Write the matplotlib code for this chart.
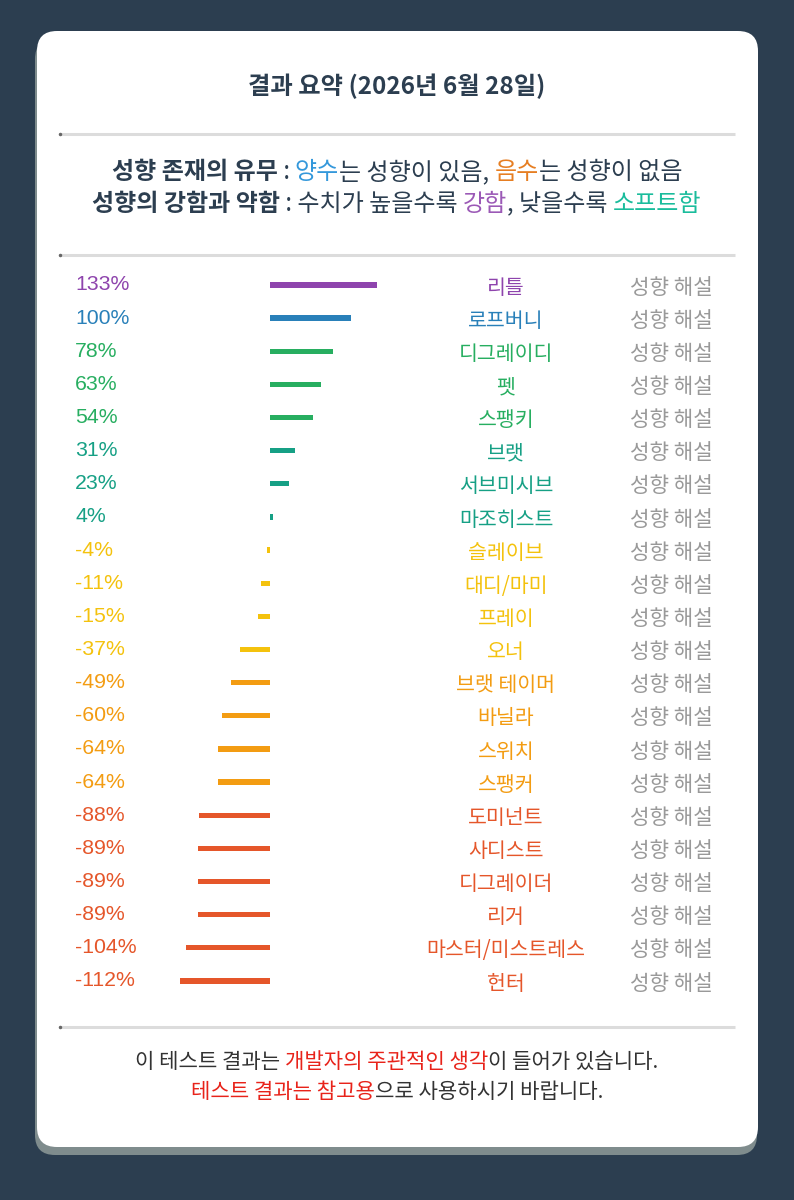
import matplotlib
matplotlib.use("Agg")
import matplotlib.pyplot as plt
from matplotlib.patches import FancyBboxPatch

plt.rcParams['font.family'] = ['Noto Sans CJK KR', 'DejaVu Sans']

# ---------------- data ----------------
names = ["리틀", "로프버니", "디그레이디", "펫", "스팽키", "브랫", "서브미시브", "마조히스트",
         "슬레이브", "대디/마미", "프레이", "오너", "브랫 테이머", "바닐라", "스위치", "스팽커",
         "도미넌트", "사디스트", "디그레이더", "리거", "마스터/미스트레스", "헌터"]
values = [133, 100, 78, 63, 54, 31, 23, 4,
          -4, -11, -15, -37, -49, -60, -64, -64,
          -88, -89, -89, -89, -104, -112]
colors = ["#8e44ad", "#2980b9", "#27ae60", "#27ae60", "#27ae60", "#16a085", "#16a085", "#16a085",
          "#f4c20d", "#f4c20d", "#f4c20d", "#f4c20d", "#f39c12", "#f39c12", "#f39c12", "#f39c12",
          "#e5562a", "#e5562a", "#e5562a", "#e5562a", "#e5562a", "#e5562a"]
link_label = "성향 해설"
title = "결과 요약 (2026년 6월 28일)"
legend_line1 = [("성향 존재의 유무", "#2c3e50", "bold"), (" : ", "#2c3e50", "normal"),
                ("양수", "#3498db", "normal"), ("는 성향이 있음, ", "#2c3e50", "normal"),
                ("음수", "#e67e22", "normal"), ("는 성향이 없음", "#2c3e50", "normal")]
legend_line2 = [("성향의 강함과 약함", "#2c3e50", "bold"), (" : 수치가 높을수록 ", "#2c3e50", "normal"),
                ("강함", "#9b59b6", "normal"), (", 낮을수록 ", "#2c3e50", "normal"),
                ("소프트함", "#1abc9c", "normal")]
footer_line1 = [("이 테스트 결과는 ", "#333333", "normal"), ("개발자의 주관적인 생각", "#e8231a", "normal"),
                ("이 들어가 있습니다.", "#333333", "normal")]
footer_line2 = [("테스트 결과는 참고용", "#e8231a", "normal"), ("으로 사용하시기 바랍니다.", "#333333", "normal")]

W, H = 794, 1200
fig = plt.figure(figsize=(W / 100, H / 100), dpi=100)
fig.patch.set_facecolor("#2c3e50")

# full-figure pixel axes for decorations
ax = fig.add_axes([0, 0, 1, 1])
ax.set_xlim(0, W)
ax.set_ylim(H, 0)
ax.axis("off")

# card shadow and card
shadow = FancyBboxPatch((35 + 20, 39 + 20), 722 - 40, 1116 - 40,
                        boxstyle="round,pad=20", fc="#7f8c8d", ec="none", zorder=1)
ax.add_patch(shadow)
card = FancyBboxPatch((37 + 20, 31 + 20), 721 - 40, 1116 - 40,
                      boxstyle="round,pad=20", fc="white", ec="none", zorder=2)
ax.add_patch(card)

# separators
for yy in (134, 255, 1027):
    ax.plot([60, 735], [yy, yy], color="#dcdcdc", lw=2.2, zorder=3, solid_capstyle="butt")
    ax.plot([60], [yy], marker="o", ms=1.5, color="#666666", zorder=4)

ax.text(397, 86, title, ha="center", va="center", fontsize=17.5, fontweight="bold",
        color="#2c3e50", zorder=5)

renderer = fig.canvas.get_renderer()


def rich_line(pieces, y, fs, cx=397):
    texts = []
    for s, c, w in pieces:
        t = ax.text(0, y, s, ha="left", va="center", fontsize=fs, color=c, fontweight=w, zorder=5)
        texts.append(t)
    widths = [t.get_window_extent(renderer).width for t in texts]
    x = cx - sum(widths) / 2
    for t, w in zip(texts, widths):
        t.set_x(x)
        x += w


rich_line(legend_line1, 172, 17.3)
rich_line(legend_line2, 204, 17.3)
rich_line(footer_line1, 1062, 15.2)
rich_line(footer_line2, 1092, 15.2)

# rows
n = len(names)
row0, step = 285, 33.14
top = row0 - step / 2
bottom = row0 + step * (n - 1) + step / 2
fy0 = 1 - bottom / H
fh = (bottom - top) / H

# bar axes: zero at x=270 px, 0.805 px per %
xl, xr = 150, 390
scale = 0.805
bax = fig.add_axes([xl / W, fy0, (xr - xl) / W, fh])
bax.set_xlim((xl - 270) / scale, (xr - 270) / scale)
bax.set_ylim(n - 0.5, -0.5)
bax.axis("off")
bax.patch.set_alpha(0)
bax.barh(range(n), values, height=0.16, color=colors, zorder=5)

# text axes for row labels (x in pixels, y in rows)
tax = fig.add_axes([0, fy0, 1, fh])
tax.set_xlim(0, W)
tax.set_ylim(n - 0.5, -0.5)
tax.axis("off")
tax.patch.set_alpha(0)
for i, (nm, v, c) in enumerate(zip(names, values, colors)):
    tax.text(75, i, f"{v}%", ha="left", va="center", fontsize=15.3, color=c,
             family=["Liberation Sans", "DejaVu Sans"])
    tax.text(506, i + 0.08, nm, ha="center", va="center", fontsize=14.8, color=c)
    tax.text(671, i + 0.08, link_label, ha="center", va="center", fontsize=15.3, color="#999999")

fig.savefig("out.png", dpi=100, facecolor=fig.get_facecolor())
